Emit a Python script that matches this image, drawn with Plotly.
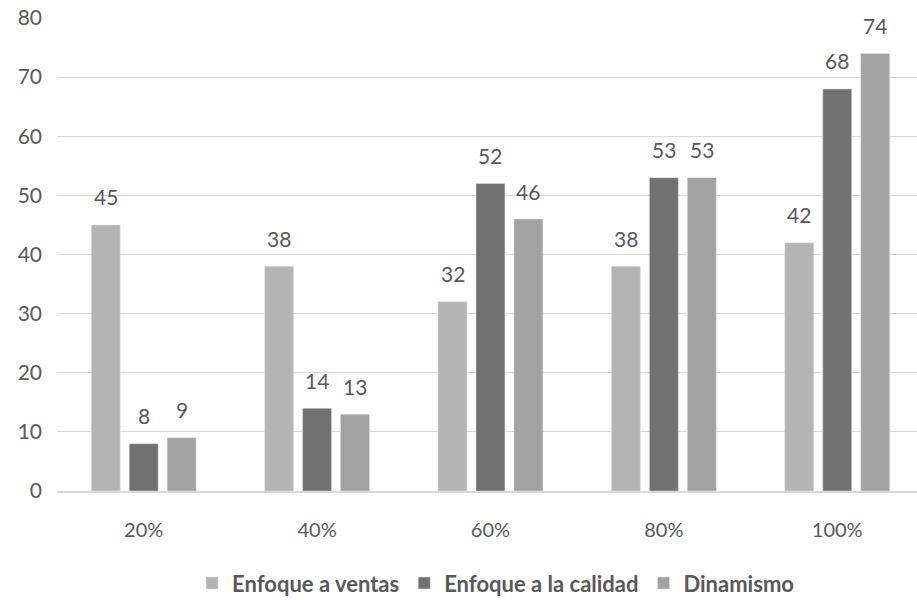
import plotly.graph_objects as go

categories = ["20%", "40%", "60%", "80%", "100%"]
series_names = ["Enfoque a ventas", "Enfoque a la calidad", "Dinamismo"]
ventas = [45, 38, 32, 38, 42]
calidad = [8, 14, 52, 53, 68]
dinamismo = [9, 13, 46, 53, 74]
colors = ["#b4b4b4", "#717171", "#a2a2a2"]

values = [ventas, calidad, dinamismo]
font_family = "Lato, 'Open Sans', sans-serif"
text_color = "#595959"
bargap = 0.343

fig = go.Figure()
for name, vals, col in zip(series_names, values, colors):
    fig.add_trace(go.Bar(
        name=name, x=categories, y=vals,
        marker=dict(color=col, line=dict(color="#e6e6e6", width=0.5)),
    ))

# value labels above each bar
slot = (1 - bargap) / len(values)
for s, vals in enumerate(values):
    off = (s - (len(values) - 1) / 2) * slot
    for i, v in enumerate(vals):
        fig.add_annotation(
            x=i + off, y=v, xref="x", yref="y", text=str(v),
            showarrow=False, yshift=28,
            font=dict(family=font_family, size=21, color=text_color),
        )

fig.update_layout(
    width=917, height=600,
    paper_bgcolor="white", plot_bgcolor="white",
    margin=dict(l=57, r=0, t=18, b=109),
    barmode="group", bargap=bargap, bargroupgap=0.237,
    font=dict(family=font_family, size=20, color=text_color),
    xaxis=dict(
        type="category", range=[-0.5, 4.46],
        showgrid=False, showline=True, linecolor="#d9d9d9", linewidth=1.5,
        ticks="", ticklabelstandoff=20,
        tickfont=dict(size=20, color=text_color),
    ),
    yaxis=dict(
        range=[0, 80], dtick=10, showgrid=True, gridcolor="#d9d9d9", gridwidth=1,
        zeroline=False, showline=False, ticks="", ticklabelstandoff=14,
        tickfont=dict(size=21, color=text_color),
    ),
    legend=dict(
        orientation="h", x=0.51, xanchor="center",
        yref="container", y=0.028, yanchor="middle",
        font=dict(size=22, color=text_color, family=font_family, weight="bold"),
        itemwidth=30, tracegroupgap=0,
    ),
)

fig.write_html("out.html")
